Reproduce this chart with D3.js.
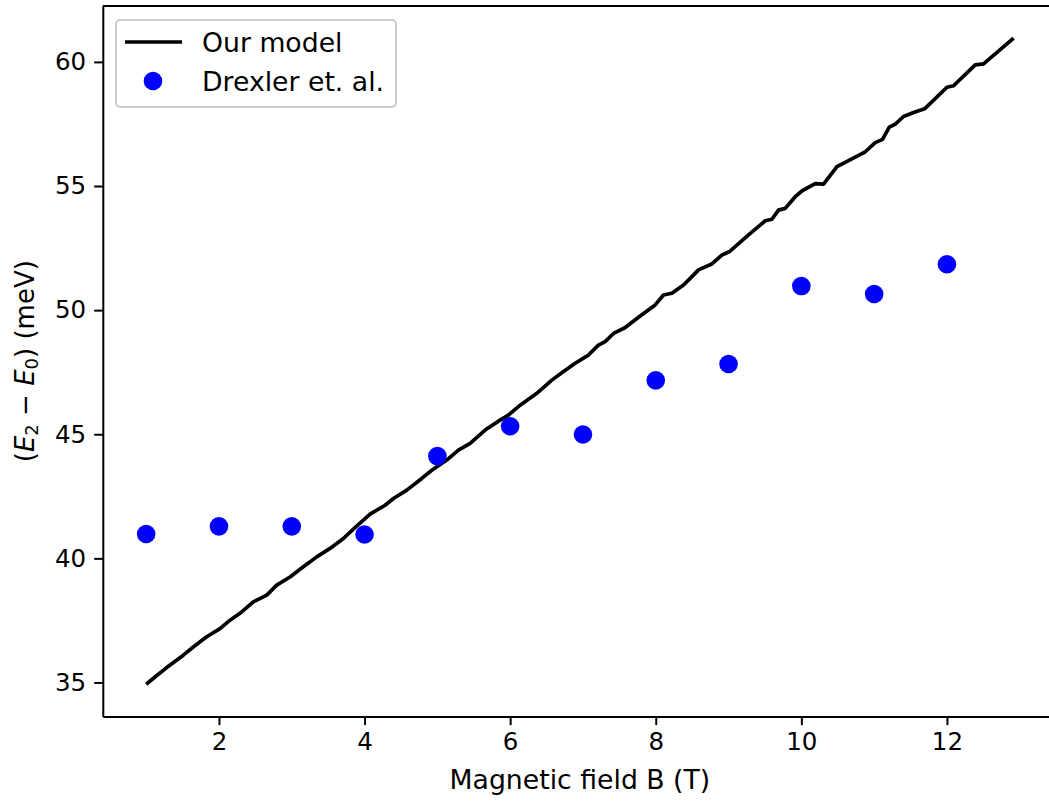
<!DOCTYPE html>
<html>
<head>
<meta charset="utf-8">
<script src="https://cdn.jsdelivr.net/npm/d3@7"></script>
<style>
  body { margin: 0; background: #fff; }
  svg { display: block; font-family: "DejaVu Sans", sans-serif; }
</style>
</head>
<body>
<svg width="1049" height="802"></svg>
<script>
// model curve (B in T, E2-E0 in meV)
const modelB = [1.0, 1.121, 1.282, 1.51, 1.647, 1.831, 2.014, 2.152, 2.312, 2.472, 2.656, 2.793, 2.976,
  3.159, 3.343, 3.526, 3.709, 3.846, 3.938, 4.075, 4.282, 4.396, 4.58, 4.786, 4.923, 5.129, 5.289,
  5.45, 5.656, 5.862, 5.976, 6.137, 6.366, 6.572, 6.728, 6.893, 7.075, 7.213, 7.305, 7.419, 7.576,
  7.786, 7.992, 8.106, 8.221, 8.381, 8.473, 8.587, 8.771, 8.909, 9.009, 9.274, 9.504, 9.596, 9.686,
  9.778, 9.916, 10.008, 10.19, 10.305, 10.489, 10.648, 10.878, 11.015, 11.115, 11.208, 11.29, 11.404,
  11.542, 11.693, 12.0, 12.091, 12.389, 12.503, 12.916];
const modelE = [34.93, 35.22, 35.6, 36.1, 36.43, 36.84, 37.17, 37.51, 37.84, 38.25, 38.52, 38.92, 39.25,
  39.66, 40.06, 40.4, 40.8, 41.18, 41.42, 41.78, 42.14, 42.41, 42.75, 43.22, 43.55, 43.96, 44.36,
  44.63, 45.17, 45.57, 45.77, 46.17, 46.65, 47.18, 47.52, 47.86, 48.19, 48.59, 48.73, 49.06, 49.29,
  49.76, 50.21, 50.61, 50.68, 51.01, 51.28, 51.62, 51.86, 52.22, 52.35, 53.03, 53.6, 53.66, 54.03,
  54.1, 54.57, 54.8, 55.1, 55.08, 55.78, 56.02, 56.38, 56.75, 56.88, 57.37, 57.49, 57.8,
  57.96, 58.11, 58.98, 59.04, 59.88, 59.92, 60.955];

// Drexler et. al. measurements
const drexB = [1, 2, 3, 4, 5, 6, 7, 8, 9, 10, 11, 12];
const drexE = [40.98, 41.29, 41.29, 40.96, 44.12, 45.32, 44.99, 47.17, 47.83, 50.97, 50.65, 51.85];

const xTicks = [2, 4, 6, 8, 10, 12];
const yTicks = [35, 40, 45, 50, 55, 60];

const svg = d3.select("svg");
const tickFont = 24.5, labelFont = 26.7;

function pad(ext) {
  const m = (ext[1] - ext[0]) * 0.05;
  return [ext[0] - m, ext[1] + m];
}

const x = d3.scaleLinear().domain(pad(d3.extent(modelB.concat(drexB)))).range([102.8, 1057]);
const y = d3.scaleLinear().domain(pad(d3.extent(modelE.concat(drexE)))).range([716.5, 5.9]);

const model = modelB.map((b, i) => ({b: b, e: modelE[i]}));
const drex = drexB.map((b, i) => ({b: b, e: drexE[i]}));

// model line
svg.append("path")
  .datum(model)
  .attr("fill", "none")
  .attr("stroke", "#000")
  .attr("stroke-width", 3.7)
  .attr("stroke-linejoin", "round")
  .attr("d", d3.line().x(d => x(d.b)).y(d => y(d.e)));

// data points
svg.selectAll("circle.pt")
  .data(drex)
  .enter()
  .append("circle")
  .attr("class", "pt")
  .attr("cx", d => x(d.b))
  .attr("cy", d => y(d.e))
  .attr("r", 9.3)
  .attr("fill", "#0000ff");

// axes
const xAxis = svg.append("g")
  .attr("transform", "translate(0," + y.range()[0] + ")")
  .call(d3.axisBottom(x).tickValues(xTicks).tickSizeOuter(0).tickSizeInner(8.6).tickPadding(8));
const yAxis = svg.append("g")
  .attr("transform", "translate(" + x.range()[0] + ",0)")
  .call(d3.axisLeft(y).tickValues(yTicks).tickSizeOuter(0).tickSizeInner(8.6).tickPadding(8));

[xAxis, yAxis].forEach(ax => {
  ax.selectAll("text").attr("font-size", tickFont).attr("font-family", "DejaVu Sans").attr("fill", "#000");
  ax.selectAll("line").attr("stroke", "#000").attr("stroke-width", 2);
  ax.select(".domain").attr("stroke", "#000").attr("stroke-width", 2);
});

// top spine
svg.append("line")
  .attr("x1", x.range()[0]).attr("x2", x.range()[1])
  .attr("y1", y.range()[1]).attr("y2", y.range()[1])
  .attr("stroke", "#000").attr("stroke-width", 2);

// axis labels
svg.append("text")
  .attr("x", (x.range()[0] + x.range()[1]) / 2)
  .attr("y", 789)
  .attr("text-anchor", "middle")
  .attr("font-size", labelFont)
  .text("Magnetic field B (T)");

const yl = svg.append("text")
  .attr("transform", "translate(34," + (y.range()[0] + y.range()[1]) / 2 + ") rotate(-90)")
  .attr("text-anchor", "middle")
  .attr("font-size", 26);
yl.append("tspan").text("(");
yl.append("tspan").attr("font-style", "italic").text("E");
yl.append("tspan").attr("font-size", 18).attr("dy", 4).text("2");
yl.append("tspan").attr("dy", -4).text(" \u2212 ");
yl.append("tspan").attr("font-style", "italic").text("E");
yl.append("tspan").attr("font-size", 18).attr("dy", 4).text("0");
yl.append("tspan").attr("dy", -4).text(") (meV)");

// legend
const lg = svg.append("g");
lg.append("rect")
  .attr("x", 116).attr("y", 20).attr("width", 280).attr("height", 87)
  .attr("rx", 4).attr("fill", "#fff").attr("fill-opacity", 0.8)
  .attr("stroke", "#cccccc").attr("stroke-width", 2);
lg.append("line")
  .attr("x1", 125).attr("x2", 182).attr("y1", 42).attr("y2", 42)
  .attr("stroke", "#000").attr("stroke-width", 3.7);
lg.append("circle").attr("cx", 153).attr("cy", 81).attr("r", 9.3).attr("fill", "#0000ff");
lg.append("text").attr("x", 202).attr("y", 52).attr("font-size", labelFont).text("Our model");
lg.append("text").attr("x", 202).attr("y", 91).attr("font-size", labelFont).text("Drexler et. al.");
</script>
</body>
</html>
